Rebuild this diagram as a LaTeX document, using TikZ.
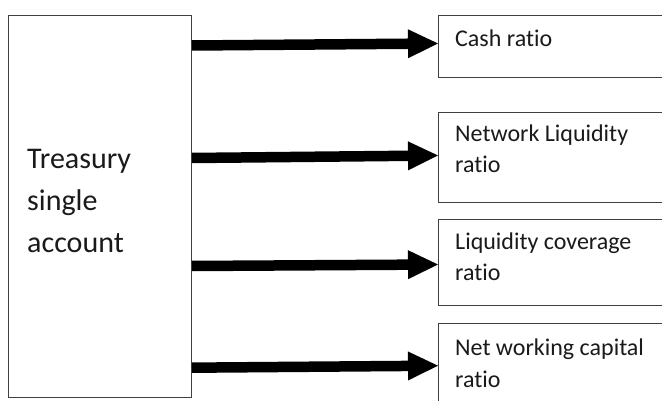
\documentclass[tikz,border=0pt]{standalone}
\usepackage{fontspec}
\setmainfont{Carlito}[Ligatures=NoCommon]
\usetikzlibrary{arrows.meta}
\definecolor{edge}{HTML}{404040}
\definecolor{ink}{HTML}{1A1A1A}
\tikzset{
  box/.style={draw=edge, line width=1pt, rectangle, inner sep=0pt, anchor=north west},
  bigtext/.style={text=ink, font=\fontsize{30}{42}\selectfont, anchor=base west, inner sep=0pt},
  smalltext/.style={text=ink, font=\fontsize{24}{31}\selectfont, anchor=base west, inner sep=0pt},
  flow/.style={line width=10.5pt, -{Triangle[length=30pt,width=29pt,line width=0pt]}}
}
\begin{document}
\begin{tikzpicture}[x=1pt,y=-1pt]
\useasboundingbox (0,0) rectangle (662,401);
\clip (0,0) rectangle (662,401);
\fill[white] (0,0) rectangle (662,401);

% source account
\node[box, minimum width=183pt, minimum height=382pt] (tsa) at (8,14.7) {};
\node[bigtext] (t1) at (27,168.3) {Treasury};
\node[bigtext] (t2) at (27,210.5) {single};
\node[bigtext] (t3) at (27,252.5) {account};

% ratio boxes (they run past the right edge)
\node[box, minimum width=250pt, minimum height=62.3pt] (cash) at (438,14.7) {};
\node[box, minimum width=250pt, minimum height=90pt] (nlr) at (438,112) {};
\node[box, minimum width=250pt, minimum height=86pt] (lcr) at (438,219) {};
\node[box, minimum width=250pt, minimum height=100pt] (nwc) at (438,322.5) {};

\node[smalltext] (c1) at (455,46.5) {Cash ratio};
\node[smalltext] (n1) at (455,142) {Network Liquidity};
\node[smalltext] (n2) at (455,173) {ratio};
\node[smalltext] (l1) at (455,249) {Liquidity coverage};
\node[smalltext] (l2) at (455,280) {ratio};
\node[smalltext] (w1) at (455,355) {Net working capital};
\node[smalltext] (w2) at (455,387) {ratio};

% arrows
\draw[flow] (tsa.east |- 0,45.5) -- (cash.west |- 0,43.5);
\draw[flow] (tsa.east |- 0,158) -- (nlr.west |- 0,155.5);
\draw[flow] (tsa.east |- 0,266) -- (lcr.west |- 0,264.5);
\draw[flow] (tsa.east |- 0,367.7) -- (nwc.west |- 0,365.7);
\end{tikzpicture}
\end{document}
